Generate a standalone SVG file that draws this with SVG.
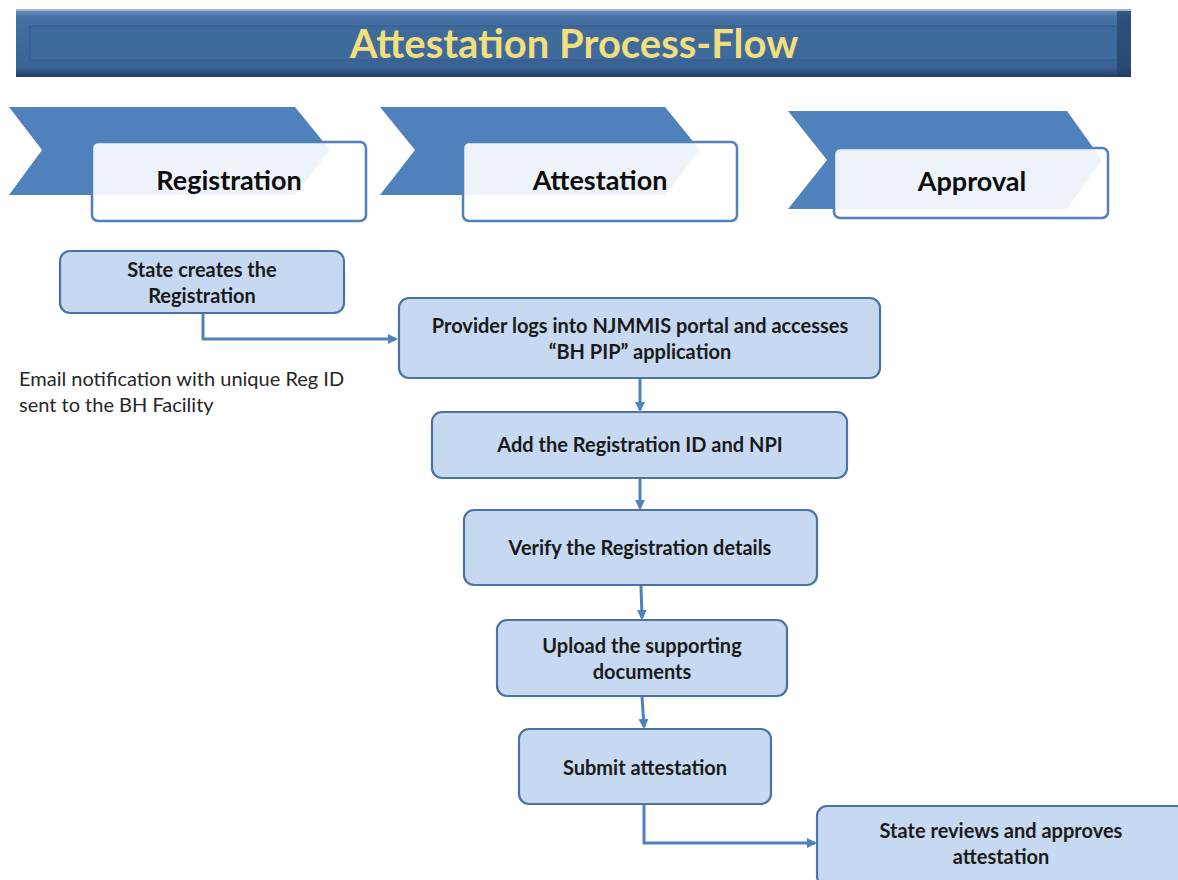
<svg xmlns="http://www.w3.org/2000/svg" width="1178" height="880" viewBox="0 0 1178 880">
<defs>
<style>
.step{fill:#c6d9f1;stroke:#4a72a6;stroke-width:2.2}
.t{font-family:Lato,"Liberation Sans",sans-serif;font-weight:bold;font-size:20px;fill:#1a1a1a;text-anchor:middle}
.h{font-family:Lato,"Liberation Sans",sans-serif;font-weight:bold;font-size:27px;fill:#0d0d0d;text-anchor:middle}
.chev{fill:#4f81bd}
.phase{fill:#ffffff;fill-opacity:0.9;stroke:#4f81bd;stroke-width:2.5}
.conn{fill:none;stroke:#4f81bd;stroke-width:3}
</style>
<marker id="arr" markerWidth="10" markerHeight="10" refX="8" refY="5" orient="auto" markerUnits="userSpaceOnUse">
<path d="M0,0 L10,5 L0,10 z" fill="#4f81bd"/>
</marker>
<linearGradient id="bev" x1="0" y1="0" x2="0" y2="1">
<stop offset="0" stop-color="#6d93c2"/>
<stop offset="0.12" stop-color="#4670a3"/>
<stop offset="0.85" stop-color="#3a6294"/>
<stop offset="1" stop-color="#233f66"/>
</linearGradient>
</defs>
<g id="title">
<rect x="16" y="9" width="1115" height="68" fill="url(#bev)"/>
<rect x="1117" y="9" width="14" height="68" fill="#1f3a5f" opacity="0.6"/>
<rect x="16" y="9" width="1115" height="2" fill="#9db7d8"/>
<rect x="30" y="26" width="1087" height="34" fill="#3f6a9c" stroke="#345a88" stroke-width="1"/>
<text x="574" y="58" font-family="Lato,'Liberation Sans',sans-serif" font-weight="bold" font-size="40" fill="#f1df7c" text-anchor="middle">Attestation Process-Flow</text>
</g>
<g id="phase-registration">
<polygon class="chev" points="9,107 295,107 330,150 295,195 9,195 42,150"/>
<rect class="phase" x="92" y="142" width="274" height="79" rx="6"/>
<text class="h" x="229" y="190">Registration</text>
</g>
<g id="phase-attestation">
<polygon class="chev" points="380,107 665,107 700,150 665,195 380,195 415,150"/>
<rect class="phase" x="463" y="142" width="274" height="79" rx="6"/>
<text class="h" x="600" y="190">Attestation</text>
</g>
<g id="phase-approval">
<polygon class="chev" points="788,111 1067,111 1102,160 1067,209 788,209 827,160"/>
<rect class="phase" x="834" y="148" width="274" height="70" rx="6"/>
<text class="h" x="972" y="191">Approval</text>
</g>
<g id="connectors">
<path class="conn" d="M203,313 V339 H396" marker-end="url(#arr)"/>
<path class="conn" d="M640,378 V410" marker-end="url(#arr)"/>
<path class="conn" d="M640,478 V508" marker-end="url(#arr)"/>
<path class="conn" d="M641,585 L642,618" marker-end="url(#arr)"/>
<path class="conn" d="M642,696 L644,727" marker-end="url(#arr)"/>
<path class="conn" d="M644,804 V843 H815" marker-end="url(#arr)"/>
</g>
<g id="step-state-creates">
<rect class="step" x="60" y="251" width="284" height="62" rx="10"/>
<text class="t" x="202" y="277">State creates the</text>
<text class="t" x="202" y="303">Registration</text>
</g>
<g id="note-email">
<text x="19" y="386" font-family="Lato,'Liberation Sans',sans-serif" font-size="20" fill="#262626">Email notification with unique Reg ID</text>
<text x="19" y="412" font-family="Lato,'Liberation Sans',sans-serif" font-size="20" fill="#262626">sent to the BH Facility</text>
</g>
<g id="step-provider-logs">
<rect class="step" x="399" y="298" width="481" height="80" rx="10"/>
<text class="t" x="640" y="333">Provider logs into NJMMIS portal and accesses</text>
<text class="t" x="640" y="359">“BH PIP” application</text>
</g>
<g id="step-add-id">
<rect class="step" x="432" y="412" width="415" height="66" rx="10"/>
<text class="t" x="640" y="452">Add the Registration ID and NPI</text>
</g>
<g id="step-verify">
<rect class="step" x="464" y="510" width="353" height="75" rx="10"/>
<text class="t" x="640" y="555">Verify the Registration details</text>
</g>
<g id="step-upload">
<rect class="step" x="497" y="620" width="290" height="76" rx="10"/>
<text class="t" x="642" y="653">Upload the supporting</text>
<text class="t" x="642" y="679">documents</text>
</g>
<g id="step-submit">
<rect class="step" x="519" y="729" width="252" height="75" rx="10"/>
<text class="t" x="645" y="775">Submit attestation</text>
</g>
<g id="step-state-reviews">
<rect class="step" x="817" y="806" width="370" height="80" rx="10"/>
<text class="t" x="1001" y="838">State reviews and approves</text>
<text class="t" x="1001" y="864">attestation</text>
</g>
</svg>
